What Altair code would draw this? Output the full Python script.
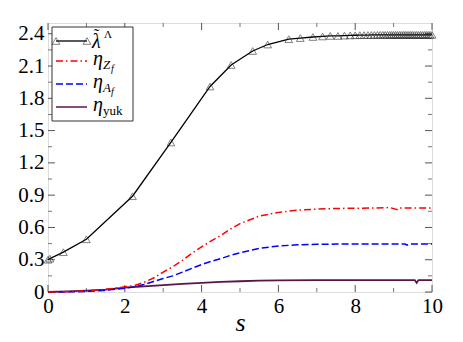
import altair as alt
import pandas as pd

# ---------------- data ----------------
lam_s = [0.0, 0.05, 0.4, 1.0, 2.2, 3.2, 4.22, 4.77, 5.33, 5.72, 6.27, 6.57, 6.9, 7.15,
         7.35, 7.55, 7.72, 7.87, 8.0, 8.12, 8.23, 8.33, 8.42, 8.5, 8.58, 8.65, 8.72,
         8.78, 8.84, 8.9, 8.95, 9.0, 9.05, 9.1, 9.15, 9.2, 9.25, 9.3, 9.35, 9.4, 9.45,
         9.5, 9.55, 9.6, 9.65, 9.7, 9.75, 9.8, 9.85, 9.9, 9.95, 10.0]
lam_v = [0.30, 0.31, 0.37, 0.49, 0.89, 1.39, 1.91, 2.11, 2.24, 2.30, 2.35, 2.36, 2.37, 2.375,
         2.38, 2.38, 2.383, 2.385, 2.386, 2.387, 2.388, 2.388, 2.389, 2.389, 2.39, 2.39, 2.39,
         2.39, 2.39, 2.39, 2.39, 2.39, 2.39, 2.39, 2.39, 2.39, 2.39, 2.39, 2.39, 2.39, 2.39,
         2.39, 2.39, 2.39, 2.39, 2.39, 2.39, 2.39, 2.39, 2.39, 2.39, 2.39]

z_s = [0, 0.5, 1, 1.5, 2, 2.25, 2.5, 2.75, 3, 3.25, 3.5, 3.75, 4, 4.25, 4.5, 4.75, 5,
       5.5, 6, 6.5, 7, 7.5, 8, 8.5, 8.9, 9.1, 9.15, 9.2, 9.5, 10]
z_v = [0.0, 0.002, 0.01, 0.025, 0.048, 0.06, 0.09, 0.13, 0.185, 0.235, 0.295, 0.36, 0.42,
       0.475, 0.525, 0.585, 0.635, 0.705, 0.74, 0.76, 0.77, 0.776, 0.779, 0.78, 0.785,
       0.765, 0.78, 0.78, 0.78, 0.78]

a_s = [0, 0.5, 1, 1.5, 2, 2.25, 2.5, 2.75, 3, 3.25, 3.5, 3.75, 4, 4.25, 4.5, 4.75, 5,
       5.5, 6, 6.5, 7, 7.5, 8, 9, 9.3, 9.35, 9.4, 10]
a_v = [0.0, 0.001, 0.005, 0.015, 0.035, 0.05, 0.07, 0.098, 0.125, 0.15, 0.185, 0.22, 0.255,
       0.285, 0.31, 0.34, 0.365, 0.405, 0.428, 0.438, 0.443, 0.445, 0.446, 0.446, 0.446,
       0.435, 0.446, 0.446]

y_s = [0, 0.5, 1, 1.5, 2, 2.5, 3, 3.5, 4, 4.5, 5, 5.5, 6, 7, 8, 9, 9.55, 9.6, 9.65, 10]
y_v = [0.0, 0.005, 0.013, 0.022, 0.04, 0.052, 0.063, 0.075, 0.085, 0.094, 0.1, 0.105,
       0.108, 0.11, 0.111, 0.111, 0.111, 0.085, 0.111, 0.111]

x_major = [0, 2, 4, 6, 8, 10]
x_minor = [1, 3, 5, 7, 9]
y_major = [0, 0.3, 0.6, 0.9, 1.2, 1.5, 1.8, 2.1, 2.4]
y_minor = [0.15, 0.45, 0.75, 1.05, 1.35, 1.65, 1.95, 2.25]

# ---------------- layout ----------------
W, H = 384, 269
FONT = "Liberation Serif"
xscale = alt.Scale(domain=[0, 10], nice=False, zero=False)
yscale = alt.Scale(domain=[0, 2.5], nice=False, zero=False)

xaxis = alt.Axis(values=x_major, ticks=False, domain=False, grid=False,
                 labelFont=FONT, labelFontSize=21, labelColor="black", labelPadding=3,
                 labelFlush=False, title="s", titleFont=FONT, titleFontSize=26,
                 titleFontStyle="italic", titleFontWeight="normal", titleColor="black",
                 titlePadding=-7)
yaxis = alt.Axis(values=y_major, ticks=False, domain=False, grid=False,
                 labelFont=FONT, labelFontSize=21, labelColor="black", labelPadding=4,
                 labelFlush=False, title=None,
                 labelExpr="datum.value == 0 ? '0' : format(datum.value, '.1f')")


def X(field):
    return alt.X(field, type="quantitative", scale=xscale, axis=xaxis, title="s")


def Y(field):
    return alt.Y(field, type="quantitative", scale=yscale, axis=yaxis, title=None)


lam_df = pd.DataFrame({"s": lam_s, "v": lam_v})
z_df = pd.DataFrame({"s": z_s, "v": z_v})
a_df = pd.DataFrame({"s": a_s, "v": a_v})
yk_df = pd.DataFrame({"s": y_s, "v": y_v})

lam_line = alt.Chart(lam_df).mark_line(color="black", strokeWidth=1.3).encode(x=X("s"), y=Y("v"))
lam_pts = alt.Chart(lam_df).mark_point(shape="triangle-up", filled=False, color="#222",
                                       size=60, strokeWidth=0.8).encode(x=X("s"), y=Y("v"))
z_line = alt.Chart(z_df).mark_line(color="#ff0000", strokeWidth=1.5,
                                   strokeDash=[7, 3, 1.5, 3]).encode(x=X("s"), y=Y("v"))
a_line = alt.Chart(a_df).mark_line(color="#0000ff", strokeWidth=1.5,
                                   strokeDash=[7, 3]).encode(x=X("s"), y=Y("v"))
y_line = alt.Chart(yk_df).mark_line(color="#5a1548", strokeWidth=1.8).encode(x=X("s"), y=Y("v"))


def xticks(vals, length, color):
    d = pd.DataFrame({"s": vals})
    bot = alt.Chart(d).mark_rule(color=color, strokeWidth=1).encode(
        x=X("s"), y=alt.value(H), y2=alt.value(H - length))
    top = alt.Chart(d).mark_rule(color=color, strokeWidth=1).encode(
        x=X("s"), y=alt.value(0), y2=alt.value(length))
    return [bot, top]


def yticks(vals, length, color):
    d = pd.DataFrame({"v": vals})
    left = alt.Chart(d).mark_rule(color=color, strokeWidth=1).encode(
        y=Y("v"), x=alt.value(0), x2=alt.value(length))
    right = alt.Chart(d).mark_rule(color=color, strokeWidth=1).encode(
        y=Y("v"), x=alt.value(W), x2=alt.value(W - length))
    return [left, right]


ticks = (xticks(x_major, 7, "#555") + xticks(x_minor, 4, "#777")
         + yticks(y_major, 7, "#555") + yticks(y_minor, 4, "#777"))

one = pd.DataFrame({"a": [0]})
leg_box = alt.Chart(one).mark_rect(fill="white", stroke="#333", strokeWidth=1).encode(
    x=alt.value(4), x2=alt.value(85), y=alt.value(4), y2=alt.value(98))


def lrule(y, color, dash=None, width=1.5):
    kw = dict(color=color, strokeWidth=width)
    if dash:
        kw["strokeDash"] = dash
    return alt.Chart(one).mark_rule(**kw).encode(x=alt.value(8), x2=alt.value(39), y=alt.value(y))


def ltri(x, y):
    return alt.Chart(one).mark_point(shape="triangle-up", filled=False, color="#222",
                                     size=60, strokeWidth=0.8).encode(x=alt.value(x), y=alt.value(y))


def txt(t, x, y, size, style="italic"):
    return alt.Chart(one).mark_text(text=t, font=FONT, fontSize=size, fontStyle=style,
                                    align="left", baseline="alphabetic", color="black").encode(
        x=alt.value(x), y=alt.value(y))


legend = [
    leg_box,
    lrule(18, "black", width=1.3), ltri(8, 18), ltri(39, 18),
    lrule(38, "#ff0000", [7, 3, 1.5, 3]),
    lrule(61, "#0000ff", [7, 3]),
    lrule(84, "#7a3a6c", width=1.8),
    txt("λ", 44, 25, 20),
    txt("˜", 46, 17, 16, "normal"),
    txt("Λ", 56, 15, 11, "normal"),
    txt("η", 45, 42, 20),
    txt("Z", 55, 46, 13),
    txt("f", 63, 49, 10),
    txt("η", 45, 65, 20),
    txt("A", 55, 69, 13),
    txt("f", 63, 72, 10),
    txt("η", 45, 88, 20),
    txt("yuk", 55, 92, 13, "normal"),
]

chart = alt.layer(
    *ticks, y_line, a_line, z_line, lam_line, lam_pts, *legend
).properties(
    width=W, height=H,
    autosize=alt.AutoSizeParams(type="none"),
    padding={"left": 40, "top": 15, "right": 20, "bottom": 50},
).configure_view(stroke="black", strokeWidth=1.2).configure(background="white")

chart.save("out.html", embed_options={"renderer": "svg", "actions": False})
